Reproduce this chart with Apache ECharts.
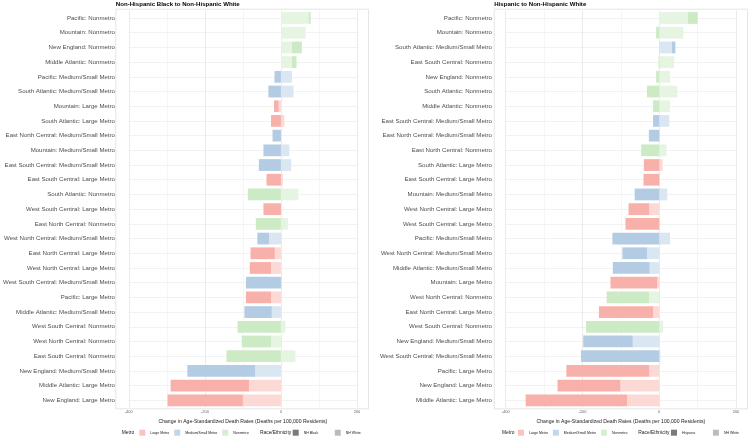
<!DOCTYPE html>
<html>
<head>
<meta charset="utf-8">
<script src="https://cdn.jsdelivr.net/npm/echarts@6/dist/echarts.min.js"></script>
<style>
html, body { margin: 0; padding: 0; background: #fff; }
#main { width: 750px; height: 437px; }
</style>
</head>
<body>
<div id="main"></div>
<script>
var FONT = '"Liberation Sans", Arial, Helvetica, sans-serif'

// left panel: Non-Hispanic Black vs Non-Hispanic White (top to bottom)
var leftCats = [
    'Pacific: Nonmetro', 'Mountain: Nonmetro', 'New England: Nonmetro', 'Middle Atlantic: Nonmetro',
    'Pacific: Medium/Small Metro', 'South Atlantic: Medium/Small Metro', 'Mountain: Large Metro',
    'South Atlantic: Large Metro', 'East North Central: Medium/Small Metro', 'Mountain: Medium/Small Metro',
    'East South Central: Medium/Small Metro', 'East South Central: Large Metro', 'South Atlantic: Nonmetro',
    'West South Central: Large Metro', 'East North Central: Nonmetro', 'West North Central: Medium/Small Metro',
    'East North Central: Large Metro', 'West North Central: Large Metro', 'West South Central: Medium/Small Metro',
    'Pacific: Large Metro', 'Middle Atlantic: Medium/Small Metro', 'West South Central: Nonmetro',
    'West North Central: Nonmetro', 'East South Central: Nonmetro', 'New England: Medium/Small Metro',
    'Middle Atlantic: Large Metro', 'New England: Large Metro'
]
var leftBlack = [5, 0, 26, 12, -17, -33, -12, -26, -22, -46, -58, -38, -87, -46, -66, -31, -64, -56, -92, -66, -72, -114, -77, -143, -178, -206, -198]
var leftWhite = [73, 65, 29, 29, 29, 33, -6, 9, 0, 22, 27, 5, 46, 0, 19, -31, -16, -26, 3, -26, -24, 12, -26, 38, -68, -84, -100]

// right panel: Hispanic vs Non-Hispanic White (top to bottom)
var rightCats = [
    'Pacific: Nonmetro', 'Mountain: Nonmetro', 'South Atlantic: Medium/Small Metro', 'East South Central: Nonmetro',
    'New England: Nonmetro', 'South Atlantic: Nonmetro', 'Middle Atlantic: Nonmetro',
    'East South Central: Medium/Small Metro', 'East North Central: Medium/Small Metro', 'East North Central: Nonmetro',
    'South Atlantic: Large Metro', 'East South Central: Large Metro', 'Mountain: Medium/Small Metro',
    'West North Central: Large Metro', 'West South Central: Large Metro', 'Pacific: Medium/Small Metro',
    'West North Central: Medium/Small Metro', 'Middle Atlantic: Medium/Small Metro', 'Mountain: Large Metro',
    'West North Central: Nonmetro', 'East North Central: Large Metro', 'West South Central: Nonmetro',
    'New England: Medium/Small Metro', 'West South Central: Medium/Small Metro', 'Pacific: Large Metro',
    'New England: Large Metro', 'Middle Atlantic: Large Metro'
]
var rightHisp = [25, -8, 9, -2, -8, -32, -16, -16, -27, -47, -40, -41, -64, -54, -88, -122, -64, -96, -122, -111, -141, -191, -129, -204, -216, -164, -264]
var rightWhite = [75, 63, 33, 39, 28, 47, 28, 26, 0, 19, 9, 2, 21, -26, 0, 28, -32, -25, -5, -26, -16, 10, -69, 3, -26, -101, -84]

var xTickLabels = [-400, -200, 0, 200]

var metroNames = ['Large Metro', 'Medium/Small Metro', 'Nonmetro']
var metroKey = { 'Large Metro': '#FBB4AE', 'Medium/Small Metro': '#B3CDE3', 'Nonmetro': '#CCEBC5' }
var metroDark = { 'Large Metro': '#F8B0AA', 'Medium/Small Metro': '#B3CBE3', 'Nonmetro': '#CCEAC4' }
var metroLight = { 'Large Metro': '#FDD9D6', 'Medium/Small Metro': '#DAE6F1', 'Nonmetro': '#E6F5E2' }

function metroOf(cat) {
    return cat.split(': ')[1]
}

function barData(cats, vals, colors) {
    var out = []
    for (var i = 0; i < cats.length; i++) {
        out.push({ value: vals[i], itemStyle: { color: colors[metroOf(cats[i])] } })
    }
    return out
}

var grid = []
var xAxis = []
var yAxis = []
var series = []
var title = []
var legend = []
var graphic = []

function addPanel(p, cats, minority, white, minorityName, heading, box) {
    var gb = grid.length
    // outer panel border
    grid.push({ left: box.left, top: 9.2, width: box.width, height: 399.6, show: true, borderColor: '#dedede', borderWidth: 0.8 })
    xAxis.push({ gridIndex: gb, type: 'value', min: 0, max: 1, show: false })
    yAxis.push({ gridIndex: gb, type: 'value', min: 0, max: 1, show: false })

    // bars
    grid.push({ left: box.barLeft, top: 10.65, width: box.barWidth, height: 397 })
    xAxis.push({
        gridIndex: gb + 1, type: 'value', min: -400, max: 200, interval: 100,
        axisLine: { show: false }, axisTick: { show: false },
        axisLabel: {
            fontFamily: FONT, fontSize: 4, color: '#666', margin: 2.6,
            formatter: function (v) { return xTickLabels.indexOf(v) >= 0 ? String(v) : '' }
        },
        splitLine: { show: true, lineStyle: { color: ['#e6e6e6', '#f3f3f3'], width: 0.8 } },
        name: 'Change in Age-Standardized Death Rates (Deaths per 100,000 Residents)',
        nameLocation: 'middle', nameGap: 8.8,
        nameTextStyle: { fontFamily: FONT, fontSize: 5.1, color: '#1a1a1a' }
    })
    yAxis.push({
        gridIndex: gb + 1, type: 'category', inverse: true, data: cats,
        axisLine: { show: false }, axisTick: { show: false },
        axisLabel: { fontFamily: FONT, fontSize: 6.1, color: '#4d4d4d', margin: 13.8 },
        splitLine: { show: true, alignWithLabel: true, lineStyle: { color: '#efefef', width: 0.8 } }
    })
    series.push({
        type: 'bar', name: 'white ' + p, xAxisIndex: gb + 1, yAxisIndex: gb + 1,
        stack: 'p' + p, barWidth: '80%', data: barData(cats, white, metroLight)
    })
    series.push({
        type: 'bar', name: minorityName + ' ' + p, xAxisIndex: gb + 1, yAxisIndex: gb + 1,
        stack: 'p' + p, barWidth: '80%', data: barData(cats, minority, metroDark)
    })

    title.push({
        text: heading, left: box.left, top: 1.2, padding: 0,
        textStyle: { fontFamily: FONT, fontSize: 6.1, fontWeight: 'bold', color: '#000' }
    })

    // legend
    var legendText = { fontFamily: FONT, fontSize: 3.5, color: '#1a1a1a' }
    legend.push({
        data: metroNames, left: box.metroKeys, top: 429.7, orient: 'horizontal', icon: 'rect',
        itemWidth: 6, itemHeight: 6, itemGap: 5, padding: 0, selectedMode: false, textStyle: legendText
    })
    legend.push({
        data: [minorityName, 'NH White'], left: box.raceKeys, top: 429.7, orient: 'horizontal', icon: 'rect',
        itemWidth: 6, itemHeight: 6, itemGap: box.raceGap, padding: 0, selectedMode: false, textStyle: legendText
    })
    graphic.push({
        type: 'text', left: box.metroTitle, top: 430.4,
        style: { text: 'Metro', font: '4.9px ' + FONT, fill: '#1a1a1a' }
    })
    graphic.push({
        type: 'text', right: 750 - box.raceTitleEnd, top: 430.4,
        style: { text: 'Race/Ethnicity', font: '4.9px ' + FONT, fill: '#1a1a1a' }
    })
}

addPanel(0, leftCats, leftBlack, leftWhite, 'NH Black', 'Non-Hispanic Black to Non-Hispanic White', {
    left: 115.8, width: 252.7, barLeft: 127.3, barWidth: 229.7,
    metroTitle: 121.7, metroKeys: 139.3, raceTitleEnd: 291.2, raceKeys: 292.7, raceGap: 16.5
})
addPanel(1, rightCats, rightHisp, rightWhite, 'Hispanic', 'Hispanic to Non-Hispanic White', {
    left: 494.2, width: 253.3, barLeft: 505.7, barWidth: 230.3,
    metroTitle: 502, metroKeys: 518, raceTitleEnd: 669.5, raceKeys: 671, raceGap: 17.5
})

// empty series only to give the legends their keys
var keyColors = {
    'Large Metro': metroKey['Large Metro'],
    'Medium/Small Metro': metroKey['Medium/Small Metro'],
    'Nonmetro': metroKey['Nonmetro'],
    'NH Black': '#595959',
    'Hispanic': '#595959',
    'NH White': '#ababab'
}
for (var k in keyColors) {
    series.push({ type: 'scatter', name: k, xAxisIndex: 0, yAxisIndex: 0, data: [], itemStyle: { color: keyColors[k] } })
}

var myChart = echarts.init(document.getElementById('main'), null, { renderer: 'canvas' })
myChart.setOption({
    animation: false,
    backgroundColor: '#ffffff',
    title: title,
    legend: legend,
    grid: grid,
    xAxis: xAxis,
    yAxis: yAxis,
    graphic: graphic,
    series: series
})
</script>
</body>
</html>
